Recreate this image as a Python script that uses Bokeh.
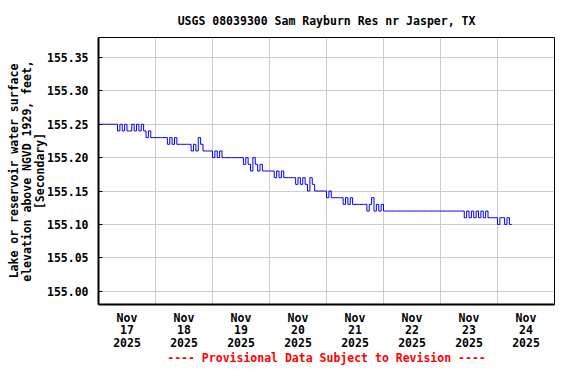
import pandas as pd
from bokeh.plotting import figure
from bokeh.models import FixedTicker, NumeralTickFormatter, ColumnDataSource
from bokeh.embed import file_html
from bokeh.resources import INLINE

# ---- data (hourly gage heights, feet) ----
series_start = "2025-11-17 00:00"
elev_nov17 = [155.25, 155.25, 155.25, 155.25, 155.25, 155.25, 155.25, 155.25,
              155.24, 155.25, 155.24, 155.25, 155.24, 155.24, 155.25, 155.24,
              155.25, 155.24, 155.25, 155.24, 155.23, 155.24, 155.23, 155.23]
elev_nov18 = [155.23, 155.23, 155.23, 155.23, 155.23, 155.22, 155.23, 155.22,
              155.23, 155.22, 155.22, 155.22, 155.22, 155.22, 155.22, 155.21,
              155.22, 155.21, 155.23, 155.22, 155.21, 155.21, 155.21, 155.21]
elev_nov19 = [155.20, 155.21, 155.20, 155.21, 155.20, 155.20, 155.20, 155.20,
              155.20, 155.20, 155.20, 155.20, 155.20, 155.19, 155.20, 155.19,
              155.18, 155.20, 155.19, 155.18, 155.19, 155.18, 155.18, 155.18]
elev_nov20 = [155.18, 155.18, 155.17, 155.18, 155.17, 155.18, 155.17, 155.17,
              155.17, 155.17, 155.17, 155.16, 155.17, 155.16, 155.17, 155.16,
              155.15, 155.17, 155.16, 155.15, 155.15, 155.15, 155.15, 155.15]
elev_nov21 = [155.14, 155.15, 155.14, 155.14, 155.14, 155.14, 155.14, 155.13,
              155.14, 155.13, 155.14, 155.13, 155.13, 155.13, 155.13, 155.13,
              155.13, 155.12, 155.13, 155.14, 155.12, 155.13, 155.12, 155.13]
elev_nov22 = [155.12, 155.12, 155.12, 155.12, 155.12, 155.12, 155.12, 155.12,
              155.12, 155.12, 155.12, 155.12, 155.12, 155.12, 155.12, 155.12,
              155.12, 155.12, 155.12, 155.12, 155.12, 155.12, 155.12, 155.12]
elev_nov23 = [155.12, 155.12, 155.12, 155.12, 155.12, 155.12, 155.12, 155.12,
              155.12, 155.12, 155.11, 155.12, 155.11, 155.12, 155.11, 155.12,
              155.11, 155.12, 155.11, 155.12, 155.11, 155.11, 155.11, 155.11]
elev_nov24 = [155.10, 155.11, 155.11, 155.10, 155.11, 155.10, 155.10]

day_labels = ["2025-11-17", "2025-11-18", "2025-11-19", "2025-11-20",
              "2025-11-21", "2025-11-22", "2025-11-23", "2025-11-24"]
y_ticks = [155.00, 155.05, 155.10, 155.15, 155.20, 155.25, 155.30, 155.35]

title_text = "USGS 08039300 Sam Rayburn Res nr Jasper, TX"
y_label = "Lake or reservoir water surface\nelevation above NGVD 1929, feet,\n[Secondary]"
footer_text = "---- Provisional Data Subject to Revision ----"

# ---- build ----
elev = (elev_nov17 + elev_nov18 + elev_nov19 + elev_nov20 +
        elev_nov21 + elev_nov22 + elev_nov23 + elev_nov24)
t0 = pd.Timestamp(day_labels[0])
times = pd.date_range(series_start, periods=len(elev), freq="h")
xdays = list((times - t0) / pd.Timedelta(days=1))
src = ColumnDataSource(dict(x=xdays, y=elev))

day_ts = [pd.Timestamp(d) for d in day_labels]
noon_pos = [(d - t0).days + 0.5 for d in day_ts]
midnights = [(d - t0).days for d in day_ts] + [len(day_ts)]
overrides = {pos: d.strftime("%b\n%d\n%Y") for pos, d in zip(noon_pos, day_ts)}

FONT = "DejaVu Sans Mono"
FS = "11.5px"

p = figure(width=560, height=368, x_range=(0, 8), y_range=(154.98, 155.38),
           output_backend="svg", toolbar_location=None,
           min_border_left=98, min_border_right=6,
           min_border_top=37, min_border_bottom=56)
p.background_fill_color = "white"
p.border_fill_color = "white"
p.outline_line_color = "black"
p.outline_line_width = 1

p.title.text = title_text
p.title.align = "center"
p.title.text_font = FONT
p.title.text_font_style = "bold"
p.title.text_font_size = FS
p.title.text_color = "black"
p.title.standoff = 20

p.step("x", "y", source=src, mode="after", line_color="#0000ff", line_width=1)

# x axis: labels at noon, grid at midnight; provisional note as the axis label
p.xaxis.ticker = FixedTicker(ticks=noon_pos)
p.xaxis.major_label_overrides = overrides
p.xaxis.major_tick_out = 0
p.xaxis.major_tick_in = 0
p.xaxis.minor_tick_out = 0
p.xaxis.minor_tick_in = 0
p.xaxis.major_label_standoff = 6
p.xaxis.major_label_text_line_height = 0.92
p.xaxis.axis_label = footer_text
p.xaxis.axis_label_standoff = -2
p.xaxis.axis_label_text_color = "red"
p.xaxis.axis_label_text_font = FONT
p.xaxis.axis_label_text_font_style = "bold"
p.xaxis.axis_label_text_font_size = FS
p.xaxis.axis_label_text_line_height = 0.9
p.xgrid.ticker = FixedTicker(ticks=midnights)

# y axis
p.yaxis.ticker = FixedTicker(ticks=y_ticks)
p.yaxis.formatter = NumeralTickFormatter(format="0.00")
p.yaxis.major_tick_out = 0
p.yaxis.major_tick_in = 4
p.yaxis.minor_tick_out = 0
p.yaxis.minor_tick_in = 0
p.yaxis.major_label_standoff = 10
p.yaxis.axis_label = y_label
p.yaxis.axis_label_standoff = -3
p.yaxis.axis_label_text_font = FONT
p.yaxis.axis_label_text_font_style = "bold"
p.yaxis.axis_label_text_font_size = FS
p.yaxis.axis_label_text_color = "black"
p.yaxis.axis_label_text_line_height = 0.92
p.ygrid.ticker = FixedTicker(ticks=y_ticks)

for ax in (p.xaxis, p.yaxis):
    ax.axis_line_color = "black"
    ax.axis_line_width = 2
    ax.major_tick_line_color = "black"
    ax.major_label_text_font = FONT
    ax.major_label_text_font_style = "bold"
    ax.major_label_text_font_size = FS
    ax.major_label_text_color = "black"

for g in (p.xgrid, p.ygrid):
    g.grid_line_color = "#cccccc"
    g.grid_line_width = 1

open("out.html", "w").write(file_html(p, INLINE))
